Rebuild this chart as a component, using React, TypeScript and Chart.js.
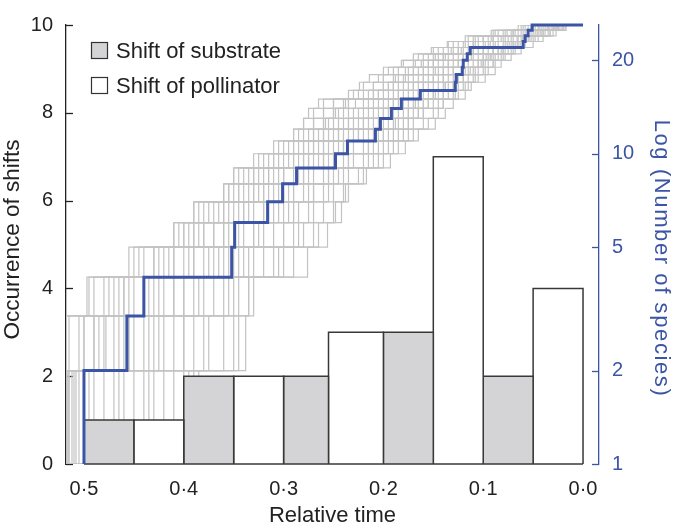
import React, { useEffect, useRef } from 'react';
import { Chart, registerables } from 'chart.js';

Chart.register(...registerables);

const FONT = '"Liberation Sans", Arial, Helvetica, sans-serif';
const BLUE = '#3b54a5';
const INK = '#222222';
const GRAY_LINE = '#c3c3c3';
const SUBSTRATE_FILL = '#d4d4d6';
const POLLINATOR_FILL = '#ffffff';

// Axes
const xTickValues = [0.5, 0.4, 0.3, 0.2, 0.1, 0.0];
const leftTickValues = [0, 2, 4, 6, 8, 10];
const rightTickValues = [1, 2, 5, 10, 20];
const leftAxisTitle = 'Occurrence of shifts';
const rightAxisTitle = 'Log (Number of species)';

// Histogram of shifts (relative time bins, oldest first)
const binEdges = [0.5, 0.45, 0.4, 0.35, 0.3, 0.255, 0.2, 0.15, 0.1, 0.05, 0.0];
const shiftType = ['substrate', 'pollinator', 'substrate', 'pollinator', 'substrate', 'pollinator', 'substrate', 'pollinator', 'substrate', 'pollinator'];
const shiftCounts = [1, 1, 2, 2, 2, 3, 3, 7, 2, 4];

// Observed lineage-through-time: times at which the count rises 1->2, 2->3, ... 25->26
const observedTimes = [0.500, 0.457, 0.440, 0.352, 0.349, 0.316, 0.301, 0.287, 0.248, 0.236, 0.208, 0.203, 0.192, 0.182, 0.163, 0.128, 0.127, 0.121, 0.120, 0.116, 0.113, 0.060, 0.058, 0.055, 0.051];

// Simulated lineage-through-time curves (same layout)
const simA = [0.515, 0.505, 0.49, 0.45, 0.41, 0.39, 0.36, 0.35, 0.33, 0.31, 0.29, 0.28, 0.275, 0.265, 0.235, 0.224, 0.214, 0.2, 0.182, 0.17, 0.152, 0.136, 0.118, 0.092, 0.065];
const simB = [0.385, 0.338, 0.33, 0.276, 0.256, 0.242, 0.235, 0.217, 0.193, 0.178, 0.165, 0.148, 0.138, 0.13, 0.118, 0.112, 0.098, 0.088, 0.082, 0.072, 0.062, 0.05, 0.04, 0.027, 0.017];
const simC = [0.51, 0.47, 0.45, 0.40, 0.37, 0.345, 0.33, 0.31, 0.285, 0.27, 0.25, 0.235, 0.225, 0.21, 0.19, 0.18, 0.165, 0.155, 0.14, 0.13, 0.115, 0.10, 0.085, 0.065, 0.04];
const simD = [0.50, 0.44, 0.42, 0.38, 0.35, 0.33, 0.305, 0.29, 0.27, 0.25, 0.23, 0.22, 0.20, 0.19, 0.175, 0.165, 0.15, 0.14, 0.125, 0.115, 0.10, 0.09, 0.075, 0.055, 0.035];
const simE = [0.45, 0.40, 0.38, 0.35, 0.32, 0.30, 0.29, 0.27, 0.255, 0.235, 0.215, 0.20, 0.185, 0.17, 0.155, 0.145, 0.135, 0.12, 0.11, 0.095, 0.085, 0.072, 0.06, 0.045, 0.028];
const simF = [0.518, 0.518, 0.48, 0.43, 0.395, 0.37, 0.34, 0.325, 0.30, 0.28, 0.265, 0.255, 0.245, 0.24, 0.215, 0.20, 0.19, 0.175, 0.16, 0.15, 0.135, 0.12, 0.105, 0.08, 0.055];
const simG = [0.40, 0.36, 0.345, 0.30, 0.28, 0.26, 0.25, 0.235, 0.21, 0.195, 0.18, 0.17, 0.16, 0.15, 0.135, 0.125, 0.115, 0.105, 0.095, 0.085, 0.075, 0.065, 0.052, 0.035, 0.022];
const simH = [0.505, 0.49, 0.46, 0.42, 0.40, 0.375, 0.355, 0.34, 0.315, 0.30, 0.285, 0.27, 0.26, 0.25, 0.225, 0.21, 0.20, 0.19, 0.17, 0.16, 0.145, 0.13, 0.11, 0.088, 0.06];
const simI = [0.48, 0.42, 0.36, 0.33, 0.30, 0.285, 0.275, 0.26, 0.24, 0.22, 0.205, 0.19, 0.175, 0.165, 0.15, 0.14, 0.125, 0.115, 0.10, 0.09, 0.08, 0.068, 0.055, 0.04, 0.025];
const simJ = [0.516, 0.46, 0.43, 0.39, 0.36, 0.32, 0.31, 0.30, 0.28, 0.26, 0.24, 0.225, 0.21, 0.195, 0.18, 0.17, 0.155, 0.145, 0.13, 0.12, 0.105, 0.095, 0.08, 0.06, 0.038];
const simK = [0.43, 0.39, 0.37, 0.36, 0.34, 0.315, 0.30, 0.28, 0.26, 0.245, 0.225, 0.21, 0.195, 0.18, 0.165, 0.155, 0.14, 0.13, 0.12, 0.105, 0.09, 0.078, 0.066, 0.05, 0.03];
const simL = [0.518, 0.50, 0.47, 0.44, 0.405, 0.385, 0.36, 0.35, 0.325, 0.305, 0.29, 0.28, 0.27, 0.26, 0.23, 0.22, 0.205, 0.195, 0.18, 0.165, 0.15, 0.135, 0.115, 0.09, 0.062];
const simM = [0.39, 0.35, 0.335, 0.31, 0.27, 0.25, 0.24, 0.22, 0.20, 0.185, 0.17, 0.155, 0.145, 0.14, 0.125, 0.115, 0.105, 0.095, 0.088, 0.078, 0.068, 0.058, 0.045, 0.03, 0.018];
const simN = [0.47, 0.45, 0.41, 0.37, 0.33, 0.31, 0.295, 0.28, 0.265, 0.24, 0.225, 0.215, 0.20, 0.185, 0.165, 0.16, 0.145, 0.135, 0.125, 0.11, 0.095, 0.085, 0.07, 0.052, 0.032];
const simO = [0.512, 0.48, 0.44, 0.41, 0.385, 0.36, 0.32, 0.315, 0.29, 0.275, 0.26, 0.245, 0.235, 0.22, 0.20, 0.19, 0.175, 0.16, 0.145, 0.14, 0.125, 0.11, 0.095, 0.07, 0.045];
const simP = [0.42, 0.38, 0.355, 0.32, 0.29, 0.275, 0.26, 0.245, 0.22, 0.205, 0.195, 0.18, 0.165, 0.155, 0.14, 0.13, 0.12, 0.11, 0.10, 0.092, 0.08, 0.07, 0.06, 0.042, 0.026];
const simQ = [0.495, 0.43, 0.40, 0.345, 0.325, 0.29, 0.28, 0.255, 0.235, 0.215, 0.20, 0.185, 0.17, 0.16, 0.145, 0.135, 0.13, 0.12, 0.105, 0.10, 0.09, 0.08, 0.065, 0.048, 0.03];
const simR = [0.518, 0.515, 0.495, 0.455, 0.41, 0.39, 0.355, 0.345, 0.32, 0.29, 0.275, 0.26, 0.25, 0.235, 0.21, 0.195, 0.18, 0.17, 0.155, 0.145, 0.13, 0.115, 0.10, 0.078, 0.05];
const simS = [0.44, 0.41, 0.39, 0.34, 0.31, 0.295, 0.27, 0.25, 0.23, 0.21, 0.19, 0.175, 0.16, 0.145, 0.13, 0.12, 0.11, 0.10, 0.09, 0.08, 0.07, 0.06, 0.048, 0.033, 0.02];
const simT = [0.508, 0.455, 0.425, 0.375, 0.355, 0.335, 0.315, 0.30, 0.275, 0.255, 0.235, 0.22, 0.205, 0.19, 0.17, 0.16, 0.15, 0.14, 0.12, 0.112, 0.10, 0.088, 0.072, 0.055, 0.034];
const simU = [0.518, 0.49, 0.455, 0.415, 0.38, 0.355, 0.335, 0.32, 0.29, 0.27, 0.255, 0.24, 0.23, 0.215, 0.195, 0.185, 0.17, 0.16, 0.15, 0.135, 0.12, 0.105, 0.09, 0.07, 0.048];
const simV = [0.46, 0.435, 0.41, 0.365, 0.345, 0.32, 0.30, 0.285, 0.26, 0.24, 0.22, 0.205, 0.19, 0.175, 0.16, 0.15, 0.14, 0.13, 0.115, 0.10, 0.09, 0.076, 0.062, 0.046, 0.029];
const simW = [0.517, 0.50, 0.475, 0.425, 0.39, 0.36, 0.345, 0.33, 0.31, 0.29, 0.27, 0.26, 0.25, 0.235, 0.205, 0.195, 0.185, 0.17, 0.155, 0.14, 0.125, 0.11, 0.092, 0.072, 0.05];
const simX = [0.41, 0.375, 0.35, 0.305, 0.285, 0.27, 0.255, 0.24, 0.215, 0.20, 0.185, 0.175, 0.165, 0.155, 0.14, 0.13, 0.12, 0.108, 0.098, 0.088, 0.078, 0.066, 0.054, 0.038, 0.024];
const simY = [0.49, 0.465, 0.435, 0.395, 0.37, 0.34, 0.32, 0.305, 0.28, 0.265, 0.245, 0.23, 0.215, 0.20, 0.185, 0.175, 0.16, 0.15, 0.135, 0.125, 0.11, 0.098, 0.082, 0.062, 0.042];
const simZ = [0.518, 0.518, 0.497, 0.445, 0.40, 0.38, 0.35, 0.335, 0.31, 0.295, 0.28, 0.27, 0.26, 0.25, 0.22, 0.21, 0.20, 0.185, 0.168, 0.155, 0.14, 0.125, 0.108, 0.085, 0.058];
const simAA = [0.395, 0.345, 0.335, 0.29, 0.265, 0.248, 0.238, 0.225, 0.205, 0.19, 0.175, 0.16, 0.15, 0.14, 0.128, 0.118, 0.108, 0.098, 0.09, 0.082, 0.072, 0.063, 0.05, 0.033, 0.02];
const simAB = [0.50, 0.455, 0.44, 0.39, 0.36, 0.34, 0.325, 0.30, 0.275, 0.26, 0.245, 0.235, 0.22, 0.205, 0.185, 0.17, 0.16, 0.148, 0.135, 0.12, 0.11, 0.093, 0.078, 0.058, 0.036];
const simAC = [0.465, 0.425, 0.40, 0.355, 0.33, 0.305, 0.29, 0.275, 0.25, 0.23, 0.21, 0.195, 0.18, 0.168, 0.15, 0.138, 0.128, 0.118, 0.105, 0.097, 0.085, 0.074, 0.06, 0.043, 0.027];
const simAD = [0.518, 0.478, 0.46, 0.41, 0.38, 0.35, 0.33, 0.315, 0.295, 0.28, 0.26, 0.25, 0.24, 0.228, 0.205, 0.19, 0.178, 0.165, 0.15, 0.138, 0.122, 0.108, 0.09, 0.068, 0.044];
const simAE = [0.435, 0.40, 0.385, 0.335, 0.30, 0.29, 0.27, 0.255, 0.235, 0.215, 0.20, 0.188, 0.175, 0.16, 0.148, 0.138, 0.126, 0.113, 0.102, 0.093, 0.082, 0.07, 0.057, 0.04, 0.025];
const simAF = [0.515, 0.485, 0.465, 0.43, 0.39, 0.365, 0.345, 0.33, 0.305, 0.285, 0.27, 0.258, 0.248, 0.238, 0.21, 0.20, 0.188, 0.178, 0.162, 0.148, 0.132, 0.118, 0.10, 0.076, 0.052];
const simulatedCurves = [simA, simB, simC, simD, simE, simF, simG, simH, simI, simJ, simK, simL, simM, simN, simO, simP, simQ, simR, simS, simT, simU, simV, simW, simX, simY, simZ, simAA, simAB, simAC, simAD, simAE, simAF];

const legendItems = [
  { label: 'Shift of substrate', fill: SUBSTRATE_FILL },
  { label: 'Shift of pollinator', fill: POLLINATOR_FILL },
];

function stepPoints(times: number[], start: number, end: number) {
  const pts: { x: number; y: number }[] = [{ x: start, y: 1 }];
  times.forEach((t, i) => {
    pts.push({ x: t, y: i + 1 });
    pts.push({ x: t, y: i + 2 });
  });
  pts.push({ x: end, y: times.length + 1 });
  return pts;
}

const insideTicks = {
  id: 'insideTicks',
  beforeDatasetsDraw(chart: any) {
    const { ctx, chartArea, scales } = chart;
    ctx.save();
    ctx.lineWidth = 1.3;
    ctx.strokeStyle = INK;
    leftTickValues.forEach((v) => {
      const y = Math.round(scales.y.getPixelForValue(v)) + 0.5;
      ctx.beginPath();
      ctx.moveTo(chartArea.left, y);
      ctx.lineTo(chartArea.left + 7, y);
      ctx.stroke();
    });
    ctx.strokeStyle = BLUE;
    rightTickValues.forEach((v) => {
      const y = Math.round(scales.y2.getPixelForValue(v)) + 0.5;
      ctx.beginPath();
      ctx.moveTo(chartArea.right - 7, y);
      ctx.lineTo(chartArea.right, y);
      ctx.stroke();
    });
    ctx.restore();
  },
};

const sideTitles = {
  id: 'sideTitles',
  afterDraw(chart: any) {
    const { ctx, chartArea, width } = chart;
    const midY = (chartArea.top + chartArea.bottom) / 2;
    ctx.save();
    ctx.font = `22.5px ${FONT}`;
    ctx.fillStyle = INK;
    ctx.textAlign = 'center';
    ctx.textBaseline = 'middle';
    ctx.translate(13, midY - 5);
    ctx.rotate(-Math.PI / 2);
    ctx.fillText(leftAxisTitle, 0, 0);
    ctx.restore();

    ctx.save();
    ctx.translate(width - 13, midY + 14);
    ctx.rotate(Math.PI / 2);
    ctx.font = `22px ${FONT}`;
    try {
      (ctx as any).letterSpacing = '1.6px';
    } catch (e) {
      /* ignore */
    }
    ctx.fillStyle = BLUE;
    ctx.textAlign = 'center';
    ctx.textBaseline = 'middle';
    ctx.fillText(rightAxisTitle, 0, 0);
    ctx.restore();
  },
};

const boxLegend = {
  id: 'boxLegend',
  afterDraw(chart: any) {
    const { ctx, chartArea } = chart;
    ctx.save();
    ctx.font = `22px ${FONT}`;
    ctx.textBaseline = 'middle';
    legendItems.forEach((item, i) => {
      const bx = chartArea.left + 25.5;
      const by = chartArea.top + 17.5 + i * 35;
      ctx.fillStyle = item.fill;
      ctx.fillRect(bx, by, 16, 16);
      ctx.strokeStyle = '#333';
      ctx.lineWidth = 1.2;
      ctx.strokeRect(bx, by, 16, 16);
      ctx.fillStyle = INK;
      ctx.fillText(item.label, bx + 24.5, by + 9);
    });
    ctx.restore();
  },
};

export default function App() {
  const ref = useRef<HTMLCanvasElement | null>(null);

  useEffect(() => {
    if (!ref.current) return;

    const grayDatasets = simulatedCurves.map((times) => ({
      type: 'line' as const,
      data: stepPoints(times, 0.53, 0.0),
      yAxisID: 'y2',
      borderColor: GRAY_LINE,
      borderWidth: 1.2,
      pointRadius: 0,
      tension: 0,
      fill: false,
      order: 3,
    }));

    const barDatasets = shiftCounts.map((count, i) => ({
      type: 'line' as const,
      data: [
        { x: binEdges[i], y: 0 },
        { x: binEdges[i], y: count },
        { x: binEdges[i + 1], y: count },
        { x: binEdges[i + 1], y: 0 },
      ],
      yAxisID: 'y',
      borderColor: '#383838',
      borderWidth: 1.5,
      backgroundColor: shiftType[i] === 'substrate' ? SUBSTRATE_FILL : POLLINATOR_FILL,
      fill: 'origin',
      pointRadius: 0,
      tension: 0,
      order: 2,
      clip: 2,
    }));

    const baseline = {
      type: 'line' as const,
      data: [
        { x: binEdges[0], y: 0 },
        { x: binEdges[binEdges.length - 1], y: 0 },
      ],
      yAxisID: 'y',
      borderColor: '#383838',
      borderWidth: 1.5,
      pointRadius: 0,
      fill: false,
      order: 1,
      clip: 2,
    };

    const observed = {
      type: 'line' as const,
      data: stepPoints(observedTimes, observedTimes[0], 0.0),
      yAxisID: 'y2',
      borderColor: BLUE,
      borderWidth: 3,
      pointRadius: 0,
      tension: 0,
      fill: false,
      order: 0,
      clip: 3,
      borderJoinStyle: 'miter' as const,
    };

    const chart = new Chart(ref.current, {
      type: 'line',
      data: { datasets: [observed, baseline, ...barDatasets, ...grayDatasets] as any },
      plugins: [insideTicks, sideTitles, boxLegend],
      options: {
        animation: false,
        responsive: false,
        layout: { padding: { top: 17, left: 0, right: 0, bottom: 0 } },
        plugins: { legend: { display: false }, tooltip: { enabled: false } },
        scales: {
          x: {
            type: 'linear',
            reverse: true,
            min: -0.016,
            max: 0.518,
            afterBuildTicks: (s: any) => {
              s.ticks = xTickValues.map((v) => ({ value: v }));
            },
            afterFit: (s: any) => {
              s.height = 65;
            },
            grid: { display: false, drawTicks: false },
            border: { display: false },
            ticks: {
              autoSkip: false,
              maxRotation: 0,
              padding: 13,
              color: INK,
              font: { family: FONT, size: 20 },
              callback: (v: any) => Number(v).toFixed(1).replace('.', '·'),
            },
            title: {
              display: true,
              text: 'Relative time',
              color: INK,
              padding: 0,
              font: { family: FONT, size: 22 },
            },
          },
          y: {
            type: 'linear',
            position: 'left',
            min: 0,
            max: 10,
            afterBuildTicks: (s: any) => {
              s.ticks = leftTickValues.map((v) => ({ value: v }));
            },
            afterFit: (s: any) => {
              s.width = 66;
            },
            grid: { display: false, drawTicks: false },
            border: { display: true, color: INK, width: 1.3 },
            ticks: {
              padding: 13,
              color: INK,
              font: { family: FONT, size: 20 },
              callback: (v: any) => String(v),
            },
            title: { display: false },
          },
          y2: {
            type: 'logarithmic',
            position: 'right',
            min: 1,
            max: 26,
            afterBuildTicks: (s: any) => {
              s.ticks = rightTickValues.map((v) => ({ value: v }));
            },
            afterFit: (s: any) => {
              s.width = 75;
            },
            grid: { display: false, drawTicks: false },
            border: { display: true, color: BLUE, width: 1.3 },
            ticks: {
              padding: 13,
              color: BLUE,
              font: { family: FONT, size: 20 },
              callback: (v: any) => String(v),
            },
            title: { display: false },
          },
        },
      } as any,
    });

    return () => chart.destroy();
  }, []);

  return (
    <div style={{ position: 'absolute', left: 0, top: 0, width: 674, height: 529, background: '#fff' }}>
      <canvas ref={ref} width={674} height={529} style={{ display: 'block' }} />
    </div>
  );
}
